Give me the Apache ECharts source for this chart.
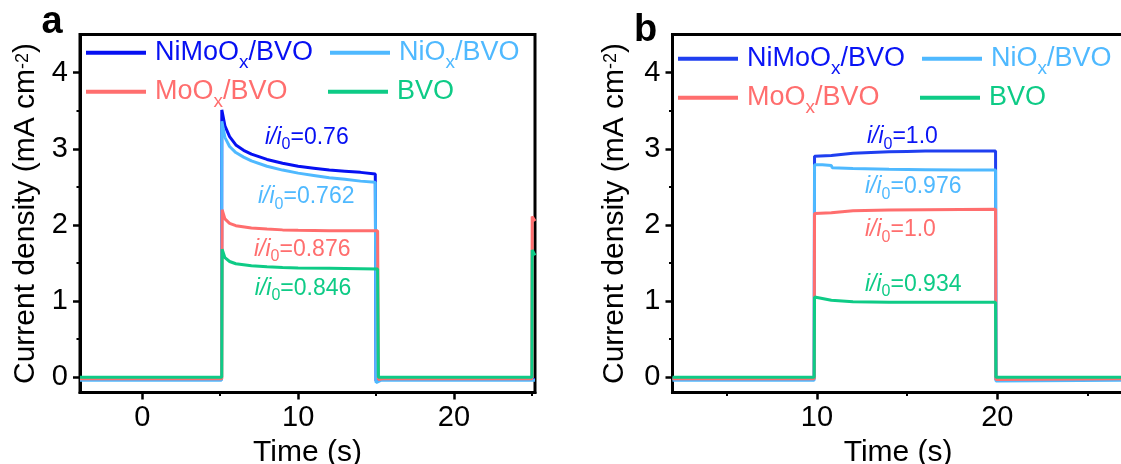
<!DOCTYPE html>
<html>
<head>
<meta charset="utf-8">
<script src="https://cdn.jsdelivr.net/npm/echarts@6/dist/echarts.min.js"></script>
<style>
  html, body { margin: 0; padding: 0; background: #ffffff; }
  #chart { width: 1121px; height: 464px; }
</style>
</head>
<body>
<div id="chart"></div>
<script>
// Chopped-light photocurrent transients: [time (s), current density (mA cm^-2)]

// Panel a
const niMoOxA = [[-4, -0.03], [5.08, -0.03], [5.1, 3.51], [5.3, 3.30], [5.6, 3.16], [6.0, 3.05], [6.5, 2.98],
  [7.0, 2.93], [8.0, 2.86], [9.0, 2.81], [10.0, 2.77], [11.0, 2.745], [12.0, 2.72], [13.0, 2.705],
  [14.0, 2.69], [14.95, 2.67], [15.0, -0.05], [15.3, -0.03], [25.2, -0.03]];
const niOxA = [[-4, -0.04], [5.08, -0.04], [5.1, 3.36], [5.3, 3.15], [5.6, 3.03], [6.0, 2.95], [6.5, 2.89],
  [7.0, 2.84], [8.0, 2.77], [9.0, 2.72], [10.0, 2.68], [11.0, 2.65], [12.0, 2.62], [13.0, 2.60],
  [14.0, 2.575], [14.95, 2.56], [15.0, -0.07], [15.3, -0.04], [25.2, -0.04]];
const moOxA = [[-4, -0.02], [5.1, -0.02], [5.12, 2.20], [5.3, 2.08], [5.6, 2.02], [6.0, 1.99], [7.0, 1.96],
  [8.0, 1.945], [9.0, 1.935], [10.0, 1.93], [12.0, 1.925], [14.0, 1.925], [15.1, 1.925], [15.15, -0.03],
  [15.4, -0.02], [25.0, -0.02], [25.02, 2.11], [25.2, 2.05]];
const bvoA = [[-4, 0], [5.1, 0], [5.12, 1.68], [5.3, 1.57], [5.6, 1.52], [6.0, 1.49], [7.0, 1.465],
  [8.0, 1.45], [9.0, 1.44], [10.0, 1.435], [12.0, 1.43], [14.0, 1.425], [15.1, 1.42], [15.15, 0],
  [25.0, 0], [25.02, 1.67], [25.2, 1.6]];

// Panel b
const niMoOxB = [[2, -0.02], [9.85, -0.02], [9.87, 2.90], [10.8, 2.91], [10.85, 2.93], [12, 2.94], [13, 2.95],
  [14, 2.96], [15, 2.965], [16, 2.97], [18, 2.97], [19.9, 2.97], [19.92, -0.03], [27, -0.03]];
const niOxB = [[2, -0.04], [9.85, -0.04], [9.87, 2.79], [10.3, 2.79], [10.8, 2.78], [10.85, 2.75], [12, 2.74],
  [14, 2.73], [16, 2.725], [18, 2.72], [19.9, 2.72], [19.92, -0.05], [27, -0.04]];
const moOxB = [[2, -0.02], [9.85, -0.02], [9.87, 2.15], [10.8, 2.16], [10.85, 2.175], [12, 2.185], [14, 2.195],
  [16, 2.2], [19.9, 2.205], [19.92, -0.03], [27, -0.02]];
const bvoB = [[2, 0], [9.85, 0], [9.87, 1.055], [10.8, 1.01], [10.9, 1.0], [12, 0.99], [14, 0.985],
  [16, 0.985], [19.9, 0.985], [19.92, 0], [27, 0]];

// Retention ratios written next to the curves
const ratiosA = ['0.76', '0.762', '0.876', '0.846'];
const ratiosB = ['1.0', '0.976', '1.0', '0.934'];

// Axis ticks
const xTicksA = [0, 10, 20];
const xMinorA = [5, 15, 25];
const xTicksB = [10, 20];
const xMinorB = [5, 15, 25];
const yTicks = [0, 1, 2, 3, 4];
const yMinor = [0.5, 1.5, 2.5, 3.5];

const FONT = '"Liberation Sans", Arial, Helvetica, sans-serif';
const colorsA = ['#0610F2', '#4FB9FF', '#FF6E6E', '#0ECB86'];
const colorsB = ['#1F3FF0', '#4FB9FF', '#FF6E6E', '#0ECB86'];
const textColorsB = ['#0A14F5', '#4FB9FF', '#FF6E6E', '#0ECB86'];
const names = ['NiMoOx/BVO', 'NiOx/BVO', 'MoOx/BVO', 'BVO'];
const legendRich = ['{m|NiMoO}{s|x}{m|/BVO}', '{m|NiO}{s|x}{m|/BVO}', '{m|MoO}{s|x}{m|/BVO}', '{m|BVO}'];

const grids = [
  { left: 80, top: 34.5, width: 455, height: 358 },
  { left: 672.5, top: 34.5, width: 451.2, height: 358 }
];

function mainX(gi, min, max, ticks) {
  return {
    type: 'value', gridIndex: gi, min: min, max: max, position: 'bottom',
    axisLine: { show: true, onZero: false, lineStyle: { color: '#000', width: 3 } },
    axisTick: { show: true, customValues: ticks, length: 7, lineStyle: { color: '#000', width: 2.5 } },
    axisLabel: { customValues: ticks, margin: 11, fontSize: 29, color: '#000', fontFamily: FONT },
    splitLine: { show: false },
    name: 'Time (s)', nameLocation: 'middle', nameGap: 37,
    nameTextStyle: { fontSize: 30, color: '#000', fontFamily: FONT }
  };
}
function minorX(gi, min, max, ticks) {
  return {
    type: 'value', gridIndex: gi, min: min, max: max, position: 'bottom',
    axisLine: { show: false, onZero: false },
    axisTick: { show: true, customValues: ticks, length: 3.5, lineStyle: { color: '#000', width: 2 } },
    axisLabel: { show: false }, splitLine: { show: false }
  };
}
function mainY(gi, gap) {
  return {
    type: 'value', gridIndex: gi, min: -0.2, max: 4.5, position: 'left',
    axisLine: { show: true, onZero: false, lineStyle: { color: '#000', width: 3 } },
    axisTick: { show: true, customValues: yTicks, length: 7, lineStyle: { color: '#000', width: 2.5 } },
    axisLabel: { customValues: yTicks, margin: 12, fontSize: 29, color: '#000', fontFamily: FONT },
    splitLine: { show: false },
    name: '{t|Current density (mA cm}{sup|-2}{t|)}',
    nameLocation: 'middle', nameGap: gap,
    nameTextStyle: {
      color: '#000', fontFamily: FONT, fontSize: 30,
      rich: {
        t: { fontSize: 30, fontFamily: FONT, color: '#000' },
        sup: { fontSize: 18, fontFamily: FONT, color: '#000', padding: [0, 0, 6, 0] }
      }
    }
  };
}
function minorY(gi) {
  return {
    type: 'value', gridIndex: gi, min: -0.2, max: 4.5, position: 'left',
    axisLine: { show: false, onZero: false },
    axisTick: { show: true, customValues: yMinor, length: 3.5, lineStyle: { color: '#000', width: 2 } },
    axisLabel: { show: false }, splitLine: { show: false }
  };
}

function lineSeries(name, data, color, xi, yi) {
  return {
    name: name, type: 'line', data: data, xAxisIndex: xi, yAxisIndex: yi,
    symbol: 'none', showSymbol: false, clip: true, animation: false,
    lineStyle: { color: color, width: 3 }, itemStyle: { color: color }
  };
}

// legend entries: line sample + rich label
function legendEntry(x1, y, label, lineColor, textColor) {
  return [
    { type: 'line', shape: { x1: x1, y1: y, x2: x1 + 60, y2: y }, style: { stroke: lineColor, lineWidth: 4 } },
    {
      type: 'text', x: x1 + 69, y: y,
      style: {
        text: label, fill: textColor, align: 'left', verticalAlign: 'middle',
        fontSize: 27, fontFamily: FONT,
        rich: {
          m: { fontSize: 27, fontFamily: FONT, fill: textColor },
          s: { fontSize: 19, fontFamily: FONT, fill: textColor, padding: [20, 0, 0, 0] }
        }
      }
    }
  ];
}

function ratioLabel(x, y, value, color) {
  return {
    type: 'text', x: x, y: y,
    style: {
      text: '{i|i/i}{s|0}{n|=' + value + '}', fill: color, align: 'left', verticalAlign: 'middle',
      fontSize: 23, fontFamily: FONT,
      rich: {
        i: { fontSize: 23, fontFamily: FONT, fontStyle: 'italic', fill: color },
        s: { fontSize: 16, fontFamily: FONT, fill: color, padding: [15, 0, 0, 0] },
        n: { fontSize: 23, fontFamily: FONT, fill: color }
      }
    }
  };
}

const graphics = [].concat(
  [{ type: 'text', x: 41.5, y: 23, style: { text: 'a', fontSize: 38, fontWeight: 'bold', fontFamily: FONT, fill: '#000', verticalAlign: 'middle' } },
   { type: 'text', x: 634, y: 30.5, style: { text: 'b', fontSize: 38, fontWeight: 'bold', fontFamily: FONT, fill: '#000', verticalAlign: 'middle' } }],
  legendEntry(86, 52.7, legendRich[0], colorsA[0], colorsA[0]),
  legendEntry(330, 52.7, legendRich[1], colorsA[1], colorsA[1]),
  legendEntry(86, 91.7, legendRich[2], colorsA[2], colorsA[2]),
  legendEntry(328, 91.7, legendRich[3], colorsA[3], colorsA[3]),
  legendEntry(678, 58.7, legendRich[0], colorsB[0], textColorsB[0]),
  legendEntry(922, 58.7, legendRich[1], colorsB[1], textColorsB[1]),
  legendEntry(678, 97.7, legendRich[2], colorsB[2], textColorsB[2]),
  legendEntry(920, 97.7, legendRich[3], colorsB[3], textColorsB[3]),
  [ratioLabel(265, 137.5, ratiosA[0], colorsA[0]),
   ratioLabel(258, 196.8, ratiosA[1], colorsA[1]),
   ratioLabel(254, 249.2, ratiosA[2], colorsA[2]),
   ratioLabel(254.8, 288.3, ratiosA[3], colorsA[3]),
   ratioLabel(866.9, 136.7, ratiosB[0], textColorsB[0]),
   ratioLabel(865, 186.7, ratiosB[1], textColorsB[1]),
   ratioLabel(865, 230, ratiosB[2], textColorsB[2]),
   ratioLabel(865, 284.3, ratiosB[3], textColorsB[3])]
);

const chart = echarts.init(document.getElementById('chart'), null, { renderer: 'canvas' });
chart.setOption({
  animation: false,
  backgroundColor: '#ffffff',
  grid: grids.map(g => Object.assign({ show: true, borderColor: '#000', borderWidth: 3, backgroundColor: 'transparent', containLabel: false, outerBoundsMode: 'none' }, g)),
  xAxis: [mainX(0, -4, 25.2, xTicksA), minorX(0, -4, 25.2, xMinorA), mainX(1, 2, 27, xTicksB), minorX(1, 2, 27, xMinorB)],
  yAxis: [mainY(0, 39), minorY(0), mainY(1, 43), minorY(1)],
  series: [
    lineSeries(names[0], niMoOxA, colorsA[0], 0, 0),
    lineSeries(names[1], niOxA, colorsA[1], 0, 0),
    lineSeries(names[2], moOxA, colorsA[2], 0, 0),
    lineSeries(names[3], bvoA, colorsA[3], 0, 0),
    lineSeries(names[0], niMoOxB, colorsB[0], 2, 2),
    lineSeries(names[1], niOxB, colorsB[1], 2, 2),
    lineSeries(names[2], moOxB, colorsB[2], 2, 2),
    lineSeries(names[3], bvoB, colorsB[3], 2, 2)
  ],
  graphic: graphics
});
</script>
</body>
</html>
